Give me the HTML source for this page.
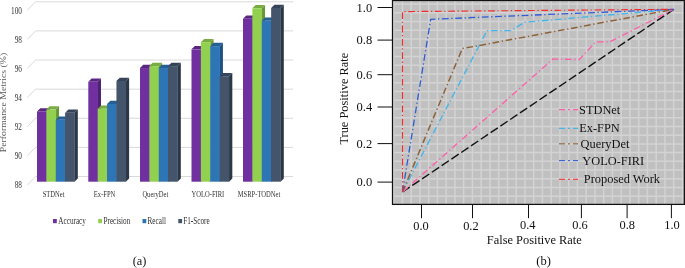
<!DOCTYPE html><html><head><meta charset="utf-8"><style>html,body{margin:0;padding:0;background:#fff}svg{display:block;will-change:transform}text{font-family:"Liberation Serif",serif}</style></head><body>
<svg width="685" height="268" viewBox="0 0 685 268">
<rect width="685" height="268" fill="#fff"/>
<path d="M27.3,10.30 L35.5,1.80 L293,1.80" fill="none" stroke="#d9d9d9" stroke-width="1"/>
<path d="M27.3,39.42 L35.5,30.92 L293,30.92" fill="none" stroke="#d9d9d9" stroke-width="1"/>
<path d="M27.3,68.54 L35.5,60.04 L293,60.04" fill="none" stroke="#d9d9d9" stroke-width="1"/>
<path d="M27.3,97.66 L35.5,89.16 L293,89.16" fill="none" stroke="#d9d9d9" stroke-width="1"/>
<path d="M27.3,126.78 L35.5,118.28 L293,118.28" fill="none" stroke="#d9d9d9" stroke-width="1"/>
<path d="M27.3,155.90 L35.5,147.40 L293,147.40" fill="none" stroke="#d9d9d9" stroke-width="1"/>
<path d="M27.3,185.02 L35.5,176.52 L293,176.52" fill="none" stroke="#d9d9d9" stroke-width="1"/>
<text transform="translate(22.00,13.70) scale(0.73,1)" font-size="10" text-anchor="end" fill="#333333" >100</text>
<text transform="translate(22.00,42.67) scale(0.73,1)" font-size="10" text-anchor="end" fill="#333333" >98</text>
<text transform="translate(22.00,71.64) scale(0.73,1)" font-size="10" text-anchor="end" fill="#333333" >96</text>
<text transform="translate(22.00,100.61) scale(0.73,1)" font-size="10" text-anchor="end" fill="#333333" >94</text>
<text transform="translate(22.00,129.58) scale(0.73,1)" font-size="10" text-anchor="end" fill="#333333" >92</text>
<text transform="translate(22.00,158.55) scale(0.73,1)" font-size="10" text-anchor="end" fill="#333333" >90</text>
<text transform="translate(22.00,187.52) scale(0.73,1)" font-size="10" text-anchor="end" fill="#333333" >88</text>
<polygon points="46.38,111.47 49.68,108.17 49.68,178.40 46.38,181.70" fill="#4f2172"/>
<polygon points="37.00,111.47 46.38,111.47 49.68,108.17 40.30,108.17" fill="#5a2681"/>
<rect x="37.00" y="111.47" width="9.68" height="70.23" fill="#7030a0"/>
<polygon points="55.76,109.59 59.06,106.29 59.06,178.40 55.76,181.70" fill="#699638"/>
<polygon points="46.38,109.59 55.76,109.59 59.06,106.29 49.68,106.29" fill="#78ab41"/>
<rect x="46.38" y="109.59" width="9.68" height="72.11" fill="#92d050"/>
<polygon points="65.14,119.71 68.44,116.41 68.44,178.40 65.14,181.70" fill="#1f5283"/>
<polygon points="55.76,119.71 65.14,119.71 68.44,116.41 59.06,116.41" fill="#255f94"/>
<rect x="55.76" y="119.71" width="9.68" height="61.99" fill="#2e75b6"/>
<polygon points="74.52,112.77 77.82,109.47 77.82,178.40 74.52,181.70" fill="#2b3646"/>
<polygon points="65.14,112.77 74.52,112.77 77.82,109.47 68.44,109.47" fill="#36445a"/>
<rect x="65.14" y="112.77" width="9.68" height="68.93" fill="#44546a"/>
<polygon points="97.68,81.85 100.98,78.55 100.98,178.40 97.68,181.70" fill="#4f2172"/>
<polygon points="88.30,81.85 97.68,81.85 100.98,78.55 91.60,78.55" fill="#5a2681"/>
<rect x="88.30" y="81.85" width="9.68" height="99.85" fill="#7030a0"/>
<polygon points="107.06,108.73 110.36,105.43 110.36,178.40 107.06,181.70" fill="#699638"/>
<polygon points="97.68,108.73 107.06,108.73 110.36,105.43 100.98,105.43" fill="#78ab41"/>
<rect x="97.68" y="108.73" width="9.68" height="72.97" fill="#92d050"/>
<polygon points="116.44,103.96 119.74,100.66 119.74,178.40 116.44,181.70" fill="#1f5283"/>
<polygon points="107.06,103.96 116.44,103.96 119.74,100.66 110.36,100.66" fill="#255f94"/>
<rect x="107.06" y="103.96" width="9.68" height="77.74" fill="#2e75b6"/>
<polygon points="125.82,80.98 129.12,77.68 129.12,178.40 125.82,181.70" fill="#2b3646"/>
<polygon points="116.44,80.98 125.82,80.98 129.12,77.68 119.74,77.68" fill="#36445a"/>
<rect x="116.44" y="80.98" width="9.68" height="100.72" fill="#44546a"/>
<polygon points="149.38,68.05 152.68,64.75 152.68,178.40 149.38,181.70" fill="#4f2172"/>
<polygon points="140.00,68.05 149.38,68.05 152.68,64.75 143.30,64.75" fill="#5a2681"/>
<rect x="140.00" y="68.05" width="9.68" height="113.65" fill="#7030a0"/>
<polygon points="158.76,66.10 162.06,62.80 162.06,178.40 158.76,181.70" fill="#699638"/>
<polygon points="149.38,66.10 158.76,66.10 162.06,62.80 152.68,62.80" fill="#78ab41"/>
<rect x="149.38" y="66.10" width="9.68" height="115.60" fill="#92d050"/>
<polygon points="168.14,68.05 171.44,64.75 171.44,178.40 168.14,181.70" fill="#1f5283"/>
<polygon points="158.76,68.05 168.14,68.05 171.44,64.75 162.06,64.75" fill="#255f94"/>
<rect x="158.76" y="68.05" width="9.68" height="113.65" fill="#2e75b6"/>
<polygon points="177.52,66.10 180.82,62.80 180.82,178.40 177.52,181.70" fill="#2b3646"/>
<polygon points="168.14,66.10 177.52,66.10 180.82,62.80 171.44,62.80" fill="#36445a"/>
<rect x="168.14" y="66.10" width="9.68" height="115.60" fill="#44546a"/>
<polygon points="200.88,49.34 204.18,46.04 204.18,178.40 200.88,181.70" fill="#4f2172"/>
<polygon points="191.50,49.34 200.88,49.34 204.18,46.04 194.80,46.04" fill="#5a2681"/>
<rect x="191.50" y="49.34" width="9.68" height="132.36" fill="#7030a0"/>
<polygon points="210.26,42.19 213.56,38.89 213.56,178.40 210.26,181.70" fill="#699638"/>
<polygon points="200.88,42.19 210.26,42.19 213.56,38.89 204.18,38.89" fill="#78ab41"/>
<rect x="200.88" y="42.19" width="9.68" height="139.51" fill="#92d050"/>
<polygon points="219.64,46.16 222.94,42.86 222.94,178.40 219.64,181.70" fill="#1f5283"/>
<polygon points="210.26,46.16 219.64,46.16 222.94,42.86 213.56,42.86" fill="#255f94"/>
<rect x="210.26" y="46.16" width="9.68" height="135.54" fill="#2e75b6"/>
<polygon points="229.02,76.22 232.32,72.92 232.32,178.40 229.02,181.70" fill="#2b3646"/>
<polygon points="219.64,76.22 229.02,76.22 232.32,72.92 222.94,72.92" fill="#36445a"/>
<rect x="219.64" y="76.22" width="9.68" height="105.48" fill="#44546a"/>
<polygon points="252.38,18.78 255.68,15.48 255.68,178.40 252.38,181.70" fill="#4f2172"/>
<polygon points="243.00,18.78 252.38,18.78 255.68,15.48 246.30,15.48" fill="#5a2681"/>
<rect x="243.00" y="18.78" width="9.68" height="162.92" fill="#7030a0"/>
<polygon points="261.76,8.30 265.06,5.00 265.06,178.40 261.76,181.70" fill="#699638"/>
<polygon points="252.38,8.30 261.76,8.30 265.06,5.00 255.68,5.00" fill="#78ab41"/>
<rect x="252.38" y="8.30" width="9.68" height="173.40" fill="#92d050"/>
<polygon points="271.14,20.87 274.44,17.57 274.44,178.40 271.14,181.70" fill="#1f5283"/>
<polygon points="261.76,20.87 271.14,20.87 274.44,17.57 265.06,17.57" fill="#255f94"/>
<rect x="261.76" y="20.87" width="9.68" height="160.83" fill="#2e75b6"/>
<polygon points="280.52,8.01 283.82,4.71 283.82,178.40 280.52,181.70" fill="#2b3646"/>
<polygon points="271.14,8.01 280.52,8.01 283.82,4.71 274.44,4.71" fill="#36445a"/>
<rect x="271.14" y="8.01" width="9.68" height="173.69" fill="#44546a"/>
<text transform="translate(53.60,197.00) scale(0.73,1)" font-size="9" text-anchor="middle" fill="#333333" >STDNet</text>
<text transform="translate(104.60,197.00) scale(0.73,1)" font-size="9" text-anchor="middle" fill="#333333" >Ex-FPN</text>
<text transform="translate(155.30,197.00) scale(0.73,1)" font-size="9" text-anchor="middle" fill="#333333" >QueryDet</text>
<text transform="translate(207.90,197.00) scale(0.73,1)" font-size="9" text-anchor="middle" fill="#333333" >YOLO-FIRI</text>
<text transform="translate(259.00,197.00) scale(0.73,1)" font-size="9" text-anchor="middle" fill="#333333" >MSRP-TODNet</text>
<rect x="53" y="219" width="3.8" height="4.2" fill="#7030a0"/>
<text transform="translate(58.30,223.70) scale(0.76,1)" font-size="9.5" text-anchor="start" fill="#333333" >Accuracy</text>
<rect x="98.2" y="219" width="3.8" height="4.2" fill="#92d050"/>
<text transform="translate(103.50,223.70) scale(0.76,1)" font-size="9.5" text-anchor="start" fill="#333333" >Precision</text>
<rect x="142.5" y="219" width="3.8" height="4.2" fill="#2e75b6"/>
<text transform="translate(147.50,223.70) scale(0.76,1)" font-size="9.5" text-anchor="start" fill="#333333" >Recall</text>
<rect x="178.3" y="219" width="3.8" height="4.2" fill="#44546a"/>
<text transform="translate(183.20,223.70) scale(0.76,1)" font-size="9.5" text-anchor="start" fill="#333333" >F1-Score</text>
<text transform="translate(6.0,102.5) rotate(-90) scale(1,0.77)" font-size="9.8" text-anchor="middle" fill="#595959">Performance Metrics (%)</text>
<text x="139.6" y="265.2" font-size="12.3" text-anchor="middle" fill="#111">(a)</text>
<rect x="392.5" y="0.5" width="291.85" height="203.9" fill="#c0c0c0"/>
<line x1="393.70" y1="0.5" x2="393.70" y2="204.4" stroke="#d3d3d3" stroke-width="1.5"/>
<line x1="402.45" y1="0.5" x2="402.45" y2="204.4" stroke="#d3d3d3" stroke-width="1.5"/>
<line x1="411.20" y1="0.5" x2="411.20" y2="204.4" stroke="#d3d3d3" stroke-width="1.5"/>
<line x1="419.95" y1="0.5" x2="419.95" y2="204.4" stroke="#d3d3d3" stroke-width="1.5"/>
<line x1="428.70" y1="0.5" x2="428.70" y2="204.4" stroke="#d3d3d3" stroke-width="1.5"/>
<line x1="437.45" y1="0.5" x2="437.45" y2="204.4" stroke="#d3d3d3" stroke-width="1.5"/>
<line x1="446.20" y1="0.5" x2="446.20" y2="204.4" stroke="#d3d3d3" stroke-width="1.5"/>
<line x1="454.95" y1="0.5" x2="454.95" y2="204.4" stroke="#d3d3d3" stroke-width="1.5"/>
<line x1="463.70" y1="0.5" x2="463.70" y2="204.4" stroke="#d3d3d3" stroke-width="1.5"/>
<line x1="472.45" y1="0.5" x2="472.45" y2="204.4" stroke="#d3d3d3" stroke-width="1.5"/>
<line x1="481.20" y1="0.5" x2="481.20" y2="204.4" stroke="#d3d3d3" stroke-width="1.5"/>
<line x1="489.95" y1="0.5" x2="489.95" y2="204.4" stroke="#d3d3d3" stroke-width="1.5"/>
<line x1="498.70" y1="0.5" x2="498.70" y2="204.4" stroke="#d3d3d3" stroke-width="1.5"/>
<line x1="507.45" y1="0.5" x2="507.45" y2="204.4" stroke="#d3d3d3" stroke-width="1.5"/>
<line x1="516.20" y1="0.5" x2="516.20" y2="204.4" stroke="#d3d3d3" stroke-width="1.5"/>
<line x1="524.95" y1="0.5" x2="524.95" y2="204.4" stroke="#d3d3d3" stroke-width="1.5"/>
<line x1="533.70" y1="0.5" x2="533.70" y2="204.4" stroke="#d3d3d3" stroke-width="1.5"/>
<line x1="542.45" y1="0.5" x2="542.45" y2="204.4" stroke="#d3d3d3" stroke-width="1.5"/>
<line x1="551.20" y1="0.5" x2="551.20" y2="204.4" stroke="#d3d3d3" stroke-width="1.5"/>
<line x1="559.95" y1="0.5" x2="559.95" y2="204.4" stroke="#d3d3d3" stroke-width="1.5"/>
<line x1="568.70" y1="0.5" x2="568.70" y2="204.4" stroke="#d3d3d3" stroke-width="1.5"/>
<line x1="577.45" y1="0.5" x2="577.45" y2="204.4" stroke="#d3d3d3" stroke-width="1.5"/>
<line x1="586.20" y1="0.5" x2="586.20" y2="204.4" stroke="#d3d3d3" stroke-width="1.5"/>
<line x1="594.95" y1="0.5" x2="594.95" y2="204.4" stroke="#d3d3d3" stroke-width="1.5"/>
<line x1="603.70" y1="0.5" x2="603.70" y2="204.4" stroke="#d3d3d3" stroke-width="1.5"/>
<line x1="612.45" y1="0.5" x2="612.45" y2="204.4" stroke="#d3d3d3" stroke-width="1.5"/>
<line x1="621.20" y1="0.5" x2="621.20" y2="204.4" stroke="#d3d3d3" stroke-width="1.5"/>
<line x1="629.95" y1="0.5" x2="629.95" y2="204.4" stroke="#d3d3d3" stroke-width="1.5"/>
<line x1="638.70" y1="0.5" x2="638.70" y2="204.4" stroke="#d3d3d3" stroke-width="1.5"/>
<line x1="647.45" y1="0.5" x2="647.45" y2="204.4" stroke="#d3d3d3" stroke-width="1.5"/>
<line x1="656.20" y1="0.5" x2="656.20" y2="204.4" stroke="#d3d3d3" stroke-width="1.5"/>
<line x1="664.95" y1="0.5" x2="664.95" y2="204.4" stroke="#d3d3d3" stroke-width="1.5"/>
<line x1="673.70" y1="0.5" x2="673.70" y2="204.4" stroke="#d3d3d3" stroke-width="1.5"/>
<line x1="682.45" y1="0.5" x2="682.45" y2="204.4" stroke="#d3d3d3" stroke-width="1.5"/>
<line x1="392.5" y1="4.10" x2="684.35" y2="4.10" stroke="#d3d3d3" stroke-width="1.5"/>
<line x1="392.5" y1="12.84" x2="684.35" y2="12.84" stroke="#d3d3d3" stroke-width="1.5"/>
<line x1="392.5" y1="21.57" x2="684.35" y2="21.57" stroke="#d3d3d3" stroke-width="1.5"/>
<line x1="392.5" y1="30.31" x2="684.35" y2="30.31" stroke="#d3d3d3" stroke-width="1.5"/>
<line x1="392.5" y1="39.04" x2="684.35" y2="39.04" stroke="#d3d3d3" stroke-width="1.5"/>
<line x1="392.5" y1="47.78" x2="684.35" y2="47.78" stroke="#d3d3d3" stroke-width="1.5"/>
<line x1="392.5" y1="56.52" x2="684.35" y2="56.52" stroke="#d3d3d3" stroke-width="1.5"/>
<line x1="392.5" y1="65.25" x2="684.35" y2="65.25" stroke="#d3d3d3" stroke-width="1.5"/>
<line x1="392.5" y1="73.99" x2="684.35" y2="73.99" stroke="#d3d3d3" stroke-width="1.5"/>
<line x1="392.5" y1="82.72" x2="684.35" y2="82.72" stroke="#d3d3d3" stroke-width="1.5"/>
<line x1="392.5" y1="91.46" x2="684.35" y2="91.46" stroke="#d3d3d3" stroke-width="1.5"/>
<line x1="392.5" y1="100.20" x2="684.35" y2="100.20" stroke="#d3d3d3" stroke-width="1.5"/>
<line x1="392.5" y1="108.93" x2="684.35" y2="108.93" stroke="#d3d3d3" stroke-width="1.5"/>
<line x1="392.5" y1="117.67" x2="684.35" y2="117.67" stroke="#d3d3d3" stroke-width="1.5"/>
<line x1="392.5" y1="126.40" x2="684.35" y2="126.40" stroke="#d3d3d3" stroke-width="1.5"/>
<line x1="392.5" y1="135.14" x2="684.35" y2="135.14" stroke="#d3d3d3" stroke-width="1.5"/>
<line x1="392.5" y1="143.88" x2="684.35" y2="143.88" stroke="#d3d3d3" stroke-width="1.5"/>
<line x1="392.5" y1="152.61" x2="684.35" y2="152.61" stroke="#d3d3d3" stroke-width="1.5"/>
<line x1="392.5" y1="161.35" x2="684.35" y2="161.35" stroke="#d3d3d3" stroke-width="1.5"/>
<line x1="392.5" y1="170.08" x2="684.35" y2="170.08" stroke="#d3d3d3" stroke-width="1.5"/>
<line x1="392.5" y1="178.82" x2="684.35" y2="178.82" stroke="#d3d3d3" stroke-width="1.5"/>
<line x1="392.5" y1="187.56" x2="684.35" y2="187.56" stroke="#d3d3d3" stroke-width="1.5"/>
<line x1="392.5" y1="196.29" x2="684.35" y2="196.29" stroke="#d3d3d3" stroke-width="1.5"/>
<rect x="392.5" y="0.5" width="291.85" height="203.9" fill="none" stroke="#111" stroke-width="1.25"/>
<line x1="377.5" y1="7.5" x2="392" y2="7.5" stroke="#111" stroke-width="1"/>
<text x="372.2" y="11.8" font-size="12.5" text-anchor="end" fill="#111">1.0</text>
<line x1="377.5" y1="40.1" x2="392" y2="40.1" stroke="#111" stroke-width="1"/>
<text x="372.2" y="44.4" font-size="12.5" text-anchor="end" fill="#111">0.8</text>
<line x1="377.5" y1="74.7" x2="392" y2="74.7" stroke="#111" stroke-width="1"/>
<text x="372.2" y="79.0" font-size="12.5" text-anchor="end" fill="#111">0.6</text>
<line x1="377.5" y1="107" x2="392" y2="107" stroke="#111" stroke-width="1"/>
<text x="372.2" y="111.3" font-size="12.5" text-anchor="end" fill="#111">0.4</text>
<line x1="377.5" y1="143.6" x2="392" y2="143.6" stroke="#111" stroke-width="1"/>
<text x="372.2" y="147.9" font-size="12.5" text-anchor="end" fill="#111">0.2</text>
<line x1="377.5" y1="182.1" x2="392" y2="182.1" stroke="#111" stroke-width="1"/>
<text x="372.2" y="186.4" font-size="12.5" text-anchor="end" fill="#111">0.0</text>
<line x1="421.5" y1="204.5" x2="421.5" y2="218.2" stroke="#111" stroke-width="1"/>
<text x="421.0" y="230.0" font-size="12.4" text-anchor="middle" fill="#111">0.0</text>
<line x1="472.5" y1="204.5" x2="472.5" y2="218.2" stroke="#111" stroke-width="1"/>
<text x="470.9" y="230.0" font-size="12.4" text-anchor="middle" fill="#111">0.2</text>
<line x1="528.5" y1="204.5" x2="528.5" y2="218.2" stroke="#111" stroke-width="1"/>
<text x="527.7" y="228.9" font-size="12.4" text-anchor="middle" fill="#111">0.4</text>
<line x1="581.4" y1="204.5" x2="581.4" y2="218.2" stroke="#111" stroke-width="1"/>
<text x="580.0" y="228.9" font-size="12.4" text-anchor="middle" fill="#111">0.6</text>
<line x1="627.1" y1="204.5" x2="627.1" y2="218.2" stroke="#111" stroke-width="1"/>
<text x="627.3" y="228.9" font-size="12.4" text-anchor="middle" fill="#111">0.8</text>
<line x1="671.4" y1="204.5" x2="671.4" y2="218.2" stroke="#111" stroke-width="1"/>
<text x="672.0" y="228.9" font-size="12.4" text-anchor="middle" fill="#111">1.0</text>
<text x="534.3" y="244.3" font-size="12.4" text-anchor="middle" fill="#111">False Positive Rate</text>
<text transform="translate(348.3,98.7) rotate(-90)" font-size="12.4" text-anchor="middle" fill="#111">True Positive Rate</text>
<text x="543.6" y="264.6" font-size="12.5" text-anchor="middle" fill="#111">(b)</text>
<path d="M402.50,192.00 L673.90,9.30" fill="none" stroke="#111" stroke-width="1.4" stroke-dasharray="8.7 3.1" stroke-linejoin="round"/>
<path d="M402.50,192.00 L553.00,59.00 L579.30,59.60 L595.70,41.90 L609.60,41.90 L673.90,9.30" fill="none" stroke="#ff5fa8" stroke-width="1.35" stroke-dasharray="6.6 2.7 1.3 2.7" stroke-linejoin="round"/>
<path d="M402.50,192.00 L487.00,30.60 L510.80,30.60 L524.50,22.30 L673.90,9.30" fill="none" stroke="#45b5ea" stroke-width="1.35" stroke-dasharray="6.6 2.7 1.3 2.7" stroke-linejoin="round"/>
<path d="M402.50,192.00 L462.30,48.60 L673.90,9.30" fill="none" stroke="#8c6239" stroke-width="1.5" stroke-dasharray="6.6 2.7 1.3 2.7" stroke-linejoin="round"/>
<path d="M402.50,192.00 L430.70,19.30 L673.90,9.30" fill="none" stroke="#2f5bd6" stroke-width="1.3" stroke-dasharray="6.8 2.6 1.3 2.6" stroke-linejoin="round"/>
<path d="M402.50,192.00 L402.50,11.60 L673.90,9.30" fill="none" stroke="#f52a2a" stroke-width="1.15" stroke-dasharray="6.8 2.6 1.3 2.6" stroke-linejoin="round"/>
<path d="M559,109.6 L578,109.6" stroke="#ff5fa8" stroke-width="1.3" stroke-dasharray="6 3 2 3" fill="none"/>
<text x="579.0" y="113.60" font-size="12.4" fill="#111">STDNet</text>
<path d="M559,128.3 L578,128.3" stroke="#45b5ea" stroke-width="1.3" stroke-dasharray="6 3 2 3" fill="none"/>
<text x="579.2" y="131.90" font-size="12.4" fill="#111">Ex-FPN</text>
<path d="M559,143.8 L578,143.8" stroke="#a08060" stroke-width="1.6" stroke-dasharray="6 3 2 3" fill="none"/>
<text x="580.6" y="147.60" font-size="12.4" fill="#111">QueryDet</text>
<path d="M559,160.6 L578,160.6" stroke="#2f5bd6" stroke-width="1" stroke-dasharray="6 3 2 3" fill="none"/>
<text x="582.3" y="164.50" font-size="12.4" fill="#111">YOLO-FIRI</text>
<path d="M559,179.3 L578,179.3" stroke="#f52a2a" stroke-width="1" stroke-dasharray="6 3 2 3" fill="none"/>
<text x="583.8" y="182.90" font-size="12.4" fill="#111">Proposed Work</text>
</svg></body></html>
